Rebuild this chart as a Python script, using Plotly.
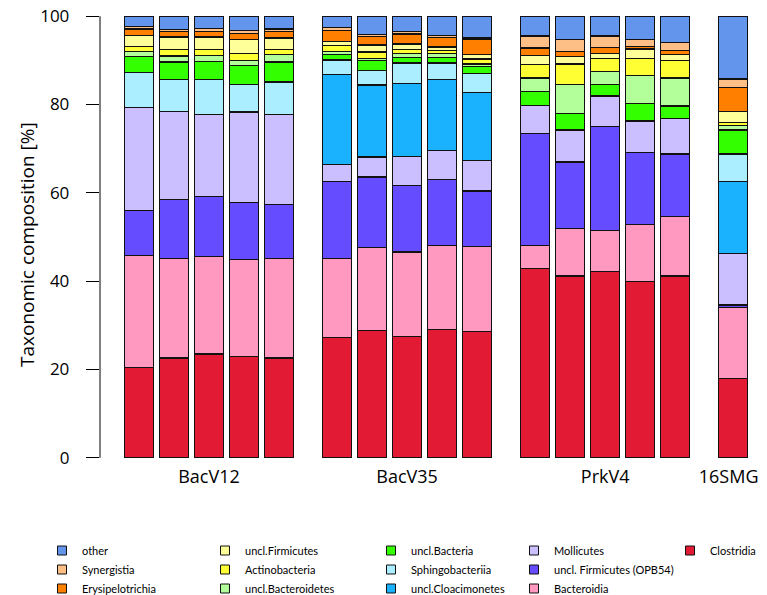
import plotly.graph_objects as go

# groups and samples
groups = ["BacV12", "BacV35", "PrkV4", "16SMG"]
group_sizes = [5, 5, 5, 1]

# taxa, bottom of the stack first
taxa = ["Clostridia", "Bacteroidia", "uncl. Firmicutes (OPB54)", "Mollicutes",
        "uncl.Cloacimonetes", "Sphingobacteriia", "uncl.Bacteria", "uncl.Bacteroidetes",
        "Actinobacteria", "uncl.Firmicutes", "Erysipelotrichia", "Synergistia", "other"]

colors = ["#E31A33", "#FF99BF", "#654CFF", "#CCBFFF", "#1AB2FF", "#AAEEFF", "#33FF00",
          "#B3FF99", "#FFFF33", "#FFFF99", "#FF7F00", "#FDBF85", "#6495ED"]

# percentages per sample: BacV12 x5, BacV35 x5, PrkV4 x5, 16SMG
clostridia = [20.5, 22.6, 23.5, 23.0, 22.6, 27.2, 28.8, 27.5, 29.1, 28.6, 42.8, 41.2, 42.2, 39.9, 41.2, 18.0]
bacteroidia = [25.3, 22.6, 22.1, 21.9, 22.6, 17.9, 18.9, 19.1, 19.0, 19.3, 5.3, 10.7, 9.2, 12.9, 13.4, 16.0]
opb54 = [10.2, 13.3, 13.5, 12.9, 12.2, 17.5, 15.9, 15.0, 15.0, 12.5, 25.4, 15.1, 23.6, 16.3, 14.2, 0.6]
mollicutes = [23.3, 19.9, 18.7, 20.5, 20.4, 3.8, 4.5, 6.7, 6.5, 6.9, 6.3, 7.2, 6.9, 7.2, 8.0, 11.6]
cloacimonetes = [0, 0, 0, 0, 0, 20.4, 16.3, 16.5, 16.1, 15.4, 0, 0, 0, 0, 0, 16.3]
sphingobacteriia = [7.9, 7.2, 7.8, 6.2, 7.3, 3.3, 3.3, 4.6, 3.7, 4.3, 0, 0, 0, 0, 0, 6.3]
uncl_bacteria = [3.7, 4.0, 4.2, 4.3, 4.5, 1.3, 2.2, 1.3, 1.2, 1.6, 3.1, 3.8, 2.6, 4.0, 2.9, 5.4]
uncl_bacteroidetes = [1.1, 1.4, 1.3, 1.2, 1.7, 0.6, 0.5, 0.8, 0.9, 0.6, 3.1, 6.5, 3.0, 6.3, 6.3, 1.0]
actinobacteria = [1.2, 1.5, 1.4, 1.6, 1.2, 1.4, 1.5, 1.0, 0.7, 1.1, 3.0, 4.7, 3.0, 3.8, 3.9, 0.7]
uncl_firmicutes = [2.4, 2.8, 2.8, 3.2, 2.6, 0.9, 1.6, 1.2, 0.8, 1.1, 2.1, 1.6, 1.1, 2.2, 1.4, 2.6]
erysipelotrichia = [1.5, 1.2, 1.2, 1.3, 1.4, 2.5, 1.9, 2.3, 2.2, 3.4, 1.7, 1.2, 1.3, 0.6, 0.9, 5.3]
synergistia = [0.5, 0.5, 0.7, 0.6, 0.6, 0.6, 0.5, 0.5, 0.5, 0.3, 2.7, 2.8, 2.6, 1.6, 1.9, 2.0]
other = [2.4, 3.0, 2.8, 3.3, 2.9, 2.6, 4.1, 3.5, 4.3, 4.9, 4.5, 5.2, 4.5, 5.2, 5.9, 14.2]

values = [clostridia, bacteroidia, opb54, mollicutes, cloacimonetes, sphingobacteriia,
          uncl_bacteria, uncl_bacteroidetes, actinobacteria, uncl_firmicutes,
          erysipelotrichia, synergistia, other]

y_ticks = [0, 20, 40, 60, 80, 100]

# bar positions: one unit per bar, extra gap between groups
gap = 0.66
xpos, centers = [], []
cursor = 0.0
for gi, n in enumerate(group_sizes):
    if gi > 0:
        cursor += gap
    members = []
    for i in range(n):
        members.append(cursor)
        cursor += 1
    xpos += members
    centers.append(sum(members) / len(members))

fig = go.Figure()
for name, col, vals in zip(taxa, colors, values):
    fig.add_bar(x=xpos, y=vals, name=name, width=0.83, showlegend=False,
                marker=dict(color=col, line=dict(color="#111111", width=1.3)))

# page body adds an 8px margin, so figure pixels = window pixels - 8
L, T, W, H = 92, 6, 660, 446
R, B = 767 - L - W, 595 - T - H

# legend: 5 columns of 3, filled top to bottom in reversed stack order
legend_order = taxa[::-1]
col_left = [34, 197, 363, 506, 662]
for k, name in enumerate(legend_order):
    col = k // 3
    key = "legend" if col == 0 else "legend%d" % (col + 1)
    idx = taxa.index(name)
    fig.add_scatter(x=[None], y=[None], mode="markers", name=name, legend=key,
                    legendrank=k, showlegend=True,
                    marker=dict(symbol="square", size=9, color=colors[idx],
                                line=dict(color="#111111", width=1)))

leg_y = (T + H - 528) / H
for c, px in enumerate(col_left):
    key = "legend" if c == 0 else "legend%d" % (c + 1)
    fig.update_layout({key: dict(x=(px - L) / W, y=leg_y, xanchor="left", yanchor="top",
                                 orientation="v", traceorder="normal",
                                 font=dict(family="Lato", size=11, color="black"),
                                 bgcolor="rgba(0,0,0,0)")})

fig.add_shape(type="line", xref="paper", yref="y", x0=0, x1=0, y0=0, y1=100,
              line=dict(color="black", width=1))

# y axis title
fig.add_annotation(text="Taxonomic composition [%]", textangle=-90, showarrow=False,
                   xref="paper", yref="paper", x=(19 - L) / W, y=(T + H - 237) / H,
                   xanchor="center", yanchor="middle", font=dict(size=19))

# last group label sits at the right edge; pad it so it stays inside the page
group_text = groups[:-1] + [groups[-1] + "\u00a0\u00a0"]

fig.update_layout(
    barmode="stack",
    width=767, height=595,
    margin=dict(l=L, r=R, t=T, b=B, autoexpand=False),
    plot_bgcolor="white", paper_bgcolor="white",
    font=dict(family="Open Sans", color="black"),
    xaxis=dict(range=[-1.114, -1.114 + W / 35.0], tickvals=centers, ticktext=group_text,
               showgrid=False, zeroline=False, showline=False, ticks="",
               tickfont=dict(size=18), ticklabelstandoff=4),
    yaxis=dict(range=[-0.5, 100.5], tickvals=y_ticks,
               ticktext=[str(v) + "\u00a0\u00a0\u00a0" for v in y_ticks],
               showgrid=False, zeroline=False, showline=False,
               ticks="outside", ticklen=13, tickwidth=1, tickcolor="black",
               tickfont=dict(size=17), ticklabeloverflow="allow"),
)

fig.write_html("out.html")
